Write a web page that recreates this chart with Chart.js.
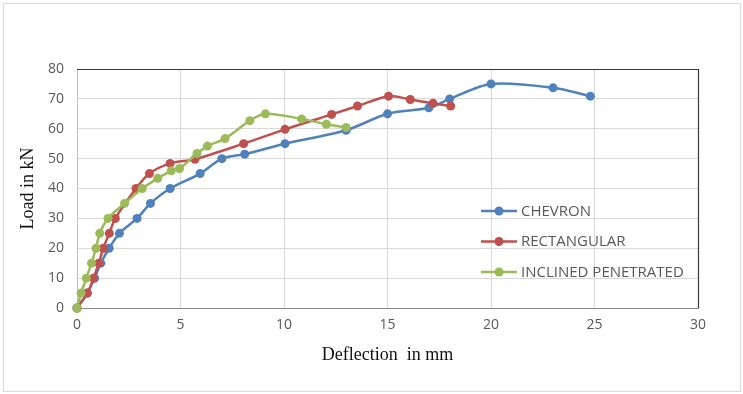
<!DOCTYPE html>
<html>
<head>
<meta charset="utf-8">
<script src="https://cdn.jsdelivr.net/npm/chart.js@4/dist/chart.umd.min.js"></script>
<style>
  html, body { margin: 0; padding: 0; background: #fff; }
  #wrap { position: absolute; left: 0; top: 0; width: 743px; height: 394px; }
</style>
</head>
<body>
<div id="wrap"><canvas id="c" width="743" height="394"></canvas></div>
<script>
// ---- data ----
const seriesNames = ["CHEVRON", "RECTANGULAR", "INCLINED PENETRATED"];
const seriesColors = ["#4F81BD", "#C0504D", "#9BBB59"];

const chevronX = [0, 0.5, 0.85, 1.15, 1.55, 2.05, 2.9, 3.55, 4.5, 5.95, 7.0, 8.1, 10.05, 13.0, 15.0, 17.0, 18.0, 20.0, 23.0, 24.8];
const chevronY = [0, 5, 10, 15, 20, 25, 30, 35, 40, 45, 50, 51.5, 55, 59.5, 65, 67, 70, 75, 73.7, 70.9];

const rectX = [0, 0.5, 0.8, 1.05, 1.27, 1.56, 1.85, 2.85, 3.5, 4.5, 5.7, 8.05, 10.05, 12.3, 13.55, 15.05, 16.1, 17.2, 18.05];
const rectY = [0, 5, 10, 15, 20, 25, 30, 40, 45, 48.4, 49.8, 55, 59.8, 64.8, 67.6, 70.9, 69.8, 68.5, 67.6];

const inclX = [0, 0.2, 0.45, 0.7, 0.92, 1.1, 1.5, 2.3, 3.15, 3.9, 4.55, 4.95, 5.8, 6.3, 7.15, 8.35, 9.1, 10.85, 12.05, 13.0];
const inclY = [0, 5, 10, 15, 20, 25, 30, 35, 40, 43.4, 45.9, 46.7, 51.7, 54.2, 56.7, 62.7, 65, 63.3, 61.5, 60.4];

const xTicks = [0, 5, 10, 15, 20, 25, 30];
const yTicks = [0, 10, 20, 30, 40, 50, 60, 70, 80];
const xTitle = "Deflection  in mm";
const yTitle = "Load in kN";

function pts(xs, ys) { return xs.map((x, i) => ({ x: x, y: ys[i] })); }
const allSeries = [pts(chevronX, chevronY), pts(rectX, rectY), pts(inclX, inclY)];

const datasets = allSeries.map((d, i) => ({
  label: seriesNames[i],
  data: d,
  borderColor: seriesColors[i],
  backgroundColor: seriesColors[i],
  pointBackgroundColor: seriesColors[i],
  pointBorderColor: seriesColors[i],
  pointRadius: 4.5,
  pointBorderWidth: 0,
  borderWidth: 2.5,
  tension: 0.3,
  clip: false,
  order: 3 - i
}));

const frameAndLegend = {
  id: 'frameAndLegend',
  beforeDraw(chart) {
    const ctx = chart.ctx;
    ctx.save();
    ctx.strokeStyle = '#d9d9d9';
    ctx.lineWidth = 1;
    ctx.strokeRect(3.5, 3.5, 737, 388);
    ctx.restore();
  },
  beforeDatasetsDraw(chart) {
    const ctx = chart.ctx;
    const a = chart.chartArea;
    ctx.save();
    ctx.strokeStyle = '#3a3a3a';
    ctx.lineWidth = 1.2;
    ctx.beginPath();
    ctx.moveTo(a.left, a.top + 0.5);
    ctx.lineTo(a.right + 0.5, a.top + 0.5);
    ctx.lineTo(a.right + 0.5, a.bottom + 0.5);
    ctx.stroke();
    ctx.strokeStyle = '#8c8c8c';
    ctx.beginPath();
    ctx.moveTo(a.left, a.bottom + 0.5);
    ctx.lineTo(a.right + 0.5, a.bottom + 0.5);
    ctx.stroke();
    ctx.restore();
  },
  afterDatasetsDraw(chart) {
    const ctx = chart.ctx;
    ctx.save();
    const x0 = 481, y0 = 211, gap = 30.5;
    chart.data.datasets.forEach((ds, i) => {
      const y = y0 + i * gap;
      ctx.strokeStyle = ds.borderColor;
      ctx.lineWidth = 2.5;
      ctx.beginPath();
      ctx.moveTo(x0, y);
      ctx.lineTo(x0 + 36, y);
      ctx.stroke();
      ctx.fillStyle = ds.borderColor;
      ctx.beginPath();
      ctx.arc(x0 + 18, y, 4.5, 0, Math.PI * 2);
      ctx.fill();
      ctx.fillStyle = '#595959';
      ctx.font = '15px "Open Sans"';
      ctx.textBaseline = 'middle';
      ctx.textAlign = 'left';
      ctx.fillText(ds.label, x0 + 40, y + 0.5);
    });
    ctx.restore();
  }
};

new Chart(document.getElementById('c'), {
  type: 'line',
  data: { datasets: datasets },
  options: {
    responsive: false,
    animation: false,
    devicePixelRatio: 1,
    layout: { padding: { top: 69, right: 45, left: 0, bottom: 0 } },
    plugins: { legend: { display: false }, tooltip: { enabled: false } },
    scales: {
      x: {
        type: 'linear',
        min: 0, max: 30,
        afterFit(s) { s.height = 86; },
        afterBuildTicks(s) { s.ticks = xTicks.map(v => ({ value: v })); },
        grid: { color: '#d9d9d9', drawTicks: false, lineWidth: 1 },
        border: { display: false },
        ticks: { color: '#595959', font: { family: 'Open Sans', size: 14 }, padding: 9, maxRotation: 0 },
        title: { display: true, text: xTitle, color: '#111', font: { family: 'Liberation Serif', size: 18 }, padding: { top: 0, bottom: 28 } }
      },
      y: {
        type: 'linear',
        min: 0, max: 80,
        afterFit(s) { s.width = 77; },
        afterBuildTicks(s) { s.ticks = yTicks.map(v => ({ value: v })); },
        grid: { color: '#d9d9d9', drawTicks: false, lineWidth: 1 },
        border: { display: true, color: '#bfbfbf' },
        ticks: { color: '#595959', font: { family: 'Open Sans', size: 14 }, padding: 13 },
        title: { display: true, text: yTitle, color: '#111', font: { family: 'Liberation Serif', size: 18 }, padding: { top: 17, bottom: 0 } }
      }
    }
  },
  plugins: [frameAndLegend]
});
</script>
</body>
</html>
